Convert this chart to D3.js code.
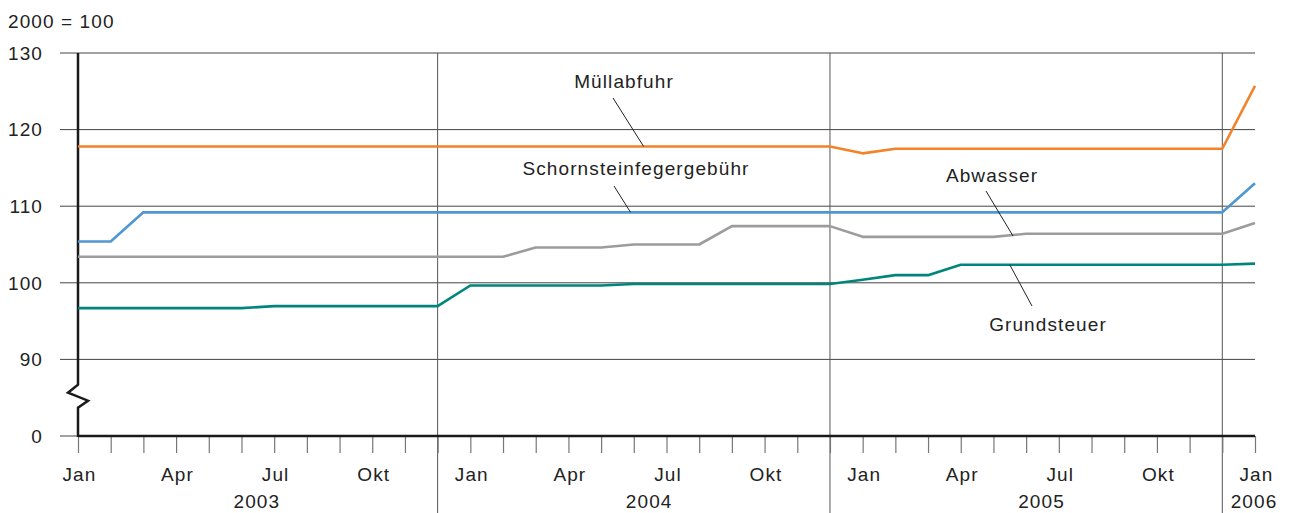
<!DOCTYPE html>
<html>
<head>
    <meta charset="utf-8">
    <title>Gebühren 2003-2006</title>
    <script src="https://d3js.org/d3.v7.min.js"></script>
    <style>
        body {
            margin: 0;
            background: #fff;
        }
        svg text {
            font-family: "Liberation Sans", Arial, sans-serif;
            font-size: 19px;
            letter-spacing: 1.1px;
            fill: #222;
        }
    </style>
</head>
<body>
<svg width="1291" height="513"></svg>
<script>
    // month labels, one per month Jan 2003 .. Jan 2006
    var monthLabels = [
        "Jan", "", "", "Apr", "", "", "Jul", "", "", "Okt", "", "",
        "Jan", "", "", "Apr", "", "", "Jul", "", "", "Okt", "", "",
        "Jan", "", "", "Apr", "", "", "Jul", "", "", "Okt", "", "",
        "Jan"
    ];
    var years = ["2003", "2004", "2005", "2006"];

    // y ticks (80 is drawn as "0" below the axis break)
    var yTickValues = [80, 90, 100, 110, 120, 130];
    var yTickLabels = ["0", "90", "100", "110", "120", "130"];

    // series values (2000 = 100)
    var muellabfuhr = [
        117.8, 117.8, 117.8, 117.8, 117.8, 117.8, 117.8, 117.8, 117.8, 117.8, 117.8, 117.8,
        117.8, 117.8, 117.8, 117.8, 117.8, 117.8, 117.8, 117.8, 117.8, 117.8, 117.8, 117.8,
        116.9, 117.5, 117.5, 117.5, 117.5, 117.5, 117.5, 117.5, 117.5, 117.5, 117.5, 117.5,
        125.7
    ];
    var schornstein = [
        105.4, 105.4, 109.2, 109.2, 109.2, 109.2, 109.2, 109.2, 109.2, 109.2, 109.2, 109.2,
        109.2, 109.2, 109.2, 109.2, 109.2, 109.2, 109.2, 109.2, 109.2, 109.2, 109.2, 109.2,
        109.2, 109.2, 109.2, 109.2, 109.2, 109.2, 109.2, 109.2, 109.2, 109.2, 109.2, 109.2,
        113.0
    ];
    var abwasser = [
        103.4, 103.4, 103.4, 103.4, 103.4, 103.4, 103.4, 103.4, 103.4, 103.4, 103.4, 103.4,
        103.4, 103.4, 104.6, 104.6, 104.6, 105.0, 105.0, 105.0, 107.4, 107.4, 107.4, 107.4,
        106.0, 106.0, 106.0, 106.0, 106.0, 106.4, 106.4, 106.4, 106.4, 106.4, 106.4, 106.4,
        107.8
    ];
    var grundsteuer = [
        96.7, 96.7, 96.7, 96.7, 96.7, 96.7, 96.95, 96.95, 96.95, 96.95, 96.95, 96.95,
        99.65, 99.65, 99.65, 99.65, 99.65, 99.85, 99.85, 99.85, 99.85, 99.85, 99.85, 99.85,
        100.4, 101.0, 101.0, 102.35, 102.35, 102.35, 102.35, 102.35, 102.35, 102.35, 102.35, 102.35,
        102.5
    ];

    var series = [
        { name: "Müllabfuhr", values: muellabfuhr, color: "#f2832a" },
        { name: "Schornsteinfegergebühr", values: schornstein, color: "#4f97d1" },
        { name: "Abwasser", values: abwasser, color: "#9c9c9c" },
        { name: "Grundsteuer", values: grundsteuer, color: "#00857b" }
    ];

    // label anchors on the lines (month index, value)
    var annotations = [
        { text: "Müllabfuhr", i: 17.3, v: 117.8 },
        { text: "Schornsteinfegergebühr", i: 16.9, v: 109.2 },
        { text: "Abwasser", i: 28.6, v: 106.1 },
        { text: "Grundsteuer", i: 28.5, v: 102.35 }
    ];
    // where the label text sits and where its leader starts (pixels)
    var labelLayout = [
        { x: 624, y: 88, lx: 613, ly: 98 },
        { x: 636, y: 175, lx: 614, ly: 186 },
        { x: 992, y: 182, lx: 986, ly: 191 },
        { x: 1048, y: 331, lx: 1032, ly: 306 }
    ];

    var svg = d3.select("svg");

    var x = d3.scaleLinear().domain([0, monthLabels.length - 1]).range([78, 1255]);
    var y = d3.scaleLinear().domain([80, 130]).range([436, 53]);

    // unit caption
    svg.append("text").attr("x", 8).attr("y", 28).text("2000 = 100");

    // horizontal grid
    svg.append("g").selectAll("line")
        .data(yTickValues)
        .enter().append("line")
        .attr("x1", 60)
        .attr("x2", function(d) { return d === 80 ? 78 : x.range()[1]; })
        .attr("y1", function(d) { return y(d); })
        .attr("y2", function(d) { return y(d); })
        .attr("stroke", "#444")
        .attr("stroke-width", 1);

    svg.append("g").selectAll("text")
        .data(yTickValues)
        .enter().append("text")
        .attr("x", 43)
        .attr("y", function(d) { return y(d); })
        .attr("dy", "0.36em")
        .attr("text-anchor", "end")
        .text(function(d, i) { return yTickLabels[i]; });

    // year separators (drawn at December)
    var sepIdx = [11, 23, 35];
    svg.append("g").selectAll("line")
        .data(sepIdx)
        .enter().append("line")
        .attr("x1", function(d) { return x(d); })
        .attr("x2", function(d) { return x(d); })
        .attr("y1", y(130))
        .attr("y2", 513)
        .attr("stroke", "#555")
        .attr("stroke-width", 1);

    // x axis with monthly ticks
    var xAxis = d3.axisBottom(x)
        .tickValues(d3.range(monthLabels.length))
        .tickFormat(function(i) { return monthLabels[i]; })
        .tickSize(17)
        .tickPadding(15);

    var gx = svg.append("g")
        .attr("transform", "translate(0," + y(80) + ")")
        .call(xAxis);
    gx.select(".domain").remove();
    gx.selectAll(".tick line").attr("stroke", "#777").attr("stroke-width", 1.2);
    gx.selectAll(".tick text")
        .attr("font-family", null)
        .attr("font-size", null)
        .attr("fill", "#222")
        .attr("dx", "0.05em");

    // year labels centred under Jan..Dec
    svg.append("g").selectAll("text")
        .data(years)
        .enter().append("text")
        .attr("x", function(d, i) {
            var a = i * 12, b = Math.min(i * 12 + 11, monthLabels.length - 1);
            return (x(a) + x(b)) / 2 - 1;
        })
        .attr("y", 508)
        .attr("text-anchor", "middle")
        .text(function(d) { return d; });

    // axis lines
    svg.append("line")
        .attr("x1", x(0)).attr("x2", x.range()[1])
        .attr("y1", y(80)).attr("y2", y(80))
        .attr("stroke", "#1a1a1a").attr("stroke-width", 2.5);

    var yb = y(85);
    var axisPath = [
        [x(0), y(130)], [x(0), yb - 13], [x(0) - 10, yb - 5],
        [x(0) + 10, yb + 3], [x(0), yb + 10], [x(0), y(80) + 1]
    ];
    svg.append("path")
        .attr("d", d3.line()(axisPath))
        .attr("fill", "none")
        .attr("stroke", "#1a1a1a")
        .attr("stroke-width", 2.5);

    // series lines
    var line = d3.line()
        .x(function(d, i) { return x(i); })
        .y(function(d) { return y(d); });

    svg.append("g").selectAll("path")
        .data(series)
        .enter().append("path")
        .attr("d", function(d) { return line(d.values); })
        .attr("fill", "none")
        .attr("stroke", function(d) { return d.color; })
        .attr("stroke-width", 2.6)
        .attr("stroke-linejoin", "round");

    // annotations with leader lines
    var ann = svg.append("g").selectAll("g")
        .data(annotations)
        .enter().append("g");

    ann.append("line")
        .attr("x1", function(d, i) { return labelLayout[i].lx; })
        .attr("y1", function(d, i) { return labelLayout[i].ly; })
        .attr("x2", function(d) { return x(d.i); })
        .attr("y2", function(d) { return y(d.v); })
        .attr("stroke", "#222")
        .attr("stroke-width", 1);

    ann.append("text")
        .attr("x", function(d, i) { return labelLayout[i].x; })
        .attr("y", function(d, i) { return labelLayout[i].y; })
        .attr("text-anchor", "middle")
        .text(function(d) { return d.text; });
</script>
</body>
</html>
